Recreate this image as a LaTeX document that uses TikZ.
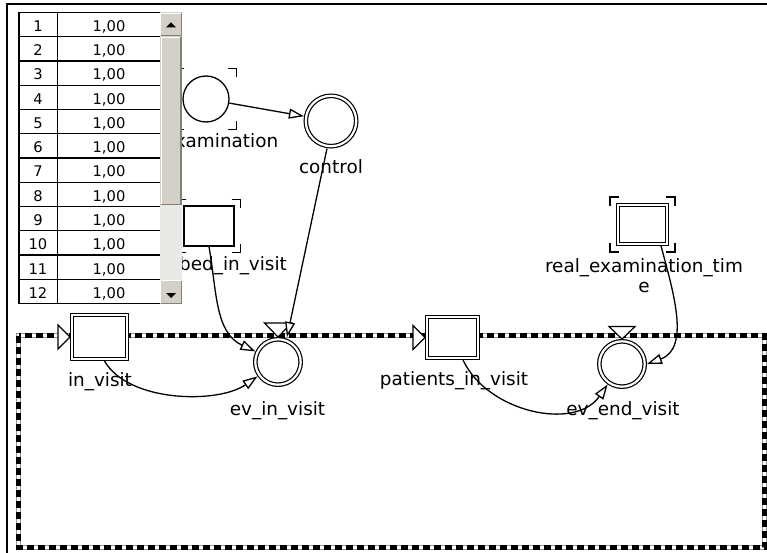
\documentclass[tikz,border=0pt]{standalone}
\usepackage{fontspec}
\setmainfont{DejaVu Sans}
\usepackage{tikz}
\usetikzlibrary{arrows.meta, calc}
\definecolor{btnGray}{RGB}{212,208,200}
\definecolor{trackGray}{RGB}{232,232,228}
\definecolor{edgeGray}{RGB}{128,128,128}
\definecolor{frameGray}{RGB}{150,150,150}

\begin{document}
\begin{tikzpicture}[x=1pt, y=1pt,
      place/.style={circle, draw, fill=white, line width=1.3pt, minimum size=#1, inner sep=0pt},
      dplace/.style={circle, draw, fill=white, line width=1.2pt, double, double distance=2.2pt, minimum size=#1, inner sep=0pt, outer sep=2.3pt},
      trans/.style={rectangle, draw, fill=white, line width=1.3pt, inner sep=0pt},
      dtrans/.style={rectangle, draw, fill=white, line width=1.2pt, double, double distance=1.6pt, inner sep=0pt, outer sep=2pt},
      tri/.style={draw, fill=white, line width=1.2pt},
      bracket/.style={line width=1.5pt},
      link/.style={line width=1.3pt, -{Triangle[length=15pt, width=10pt, fill=white]}},
      lbl/.style={font=\fontsize{18.4}{19.6}\selectfont, inner sep=0pt, anchor=base},
      cell/.style={font=\fontsize{14.7}{16}\selectfont, inner sep=0pt, anchor=base}]

  \useasboundingbox (0,0) rectangle (767,-553);

  % window frame
  \draw[line width=2pt] (7,-553) -- (7,-4) -- (767,-4);

  % subnet frame
  \draw[line width=5pt, frameGray] (18.5,-335.5) rectangle (764.5,-547.5);
  \draw[line width=2.5pt, white] (18.5,-335.5) rectangle (764.5,-547.5);
  \draw[line width=5pt, dash pattern=on 7pt off 4pt] (18.5,-335.5) rectangle (764.5,-547.5);

  % places and transitions
  \node[place=46pt] (exam) at (206,-99) {};
  \node[dplace=50.4pt] (control) at (331,-121) {};
  \node[trans, minimum width=50pt, minimum height=40pt] (bed) at (209,-226) {};
  \node[dtrans, minimum width=49pt, minimum height=39pt] (realtime) at (642.5,-224.5) {};
  \node[dtrans, minimum width=55pt, minimum height=44pt] (invisit) at (99.5,-337) {};
  \node[dplace=45.4pt] (evin) at (278,-362) {};
  \node[dtrans, minimum width=51pt, minimum height=41pt] (patients) at (452.5,-337.5) {};
  \node[dplace=45.4pt] (evend) at (622,-364) {};

  % corner marks
  \foreach \n/\o in {exam/7, bed/6, realtime/6} {
    \coordinate (tl) at ($(\n.north -| \n.west)+(-\o,\o)$);
    \coordinate (br) at ($(\n.south -| \n.east)+(\o,-\o)$);
    \coordinate (tr) at (tl -| br);
    \coordinate (bl) at (br -| tl);
    \draw[bracket] ($(tl)+(9,0)$) -- (tl) -- ($(tl)+(0,-9)$);
    \draw[bracket] ($(tr)+(-9,0)$) -- (tr) -- ($(tr)+(0,-9)$);
    \draw[bracket] ($(bl)+(9,0)$) -- (bl) -- ($(bl)+(0,9)$);
    \draw[bracket] ($(br)+(-9,0)$) -- (br) -- ($(br)+(0,9)$);
  }

  % input markers
  \draw[tri] (invisit.west) -- ++(-12,12) -- ++(0,-24) -- cycle;
  \draw[tri] (patients.west) -- ++(-12,12) -- ++(0,-24) -- cycle;
  \draw[tri] (evin.north) -- ++(-13.5,14) -- ++(27,0) -- cycle;
  \draw[tri] (evend.north) -- ++(-13,12.5) -- ++(26,0) -- cycle;

  % arcs
  \draw[link] (exam) -- (control);
  \draw[link] ([xshift=-4pt]control.south) -- ([xshift=9pt]evin.north);
  \draw[link] (bed.south) to[out=-80, in=155] (evin);
  \draw[link] ([xshift=5pt]invisit.south) to[out=-60, in=215, looseness=0.8] (evin);
  \draw[link] (patients) to[out=-65, in=235] (evend);
  \draw[link] ([xshift=-8pt]realtime.south east) to[out=-75, in=20] (evend.east);

  % labels
  \node[lbl] (examlbl) at (221,-148) {examination};
  \node[lbl] (controllbl) at (331,-174) {control};
  \node[lbl] (bedlbl) at (233,-270) {bed\_in\_visit};
  \node[lbl, align=center] (realtimelbl) at (644,-292.3) {real\_examination\_tim\\e};
  \node[lbl] (invisitlbl) at (100,-386) {in\_visit};
  \node[lbl] (evinlbl) at (277.5,-415) {ev\_in\_visit};
  \node[lbl] (patientslbl) at (454,-385.7) {patients\_in\_visit};
  \node[lbl] (evendlbl) at (623,-415) {ev\_end\_visit};

  % value table
  \fill[white] (19,-12.5) rectangle (160,-303.5);
  \foreach \i in {1,...,12} {
    \node[cell] (num\i) at (38, {-7.25-24.25*\i}) {\i};
    \node[cell] (val\i) at (109, {-7.25-24.25*\i}) {1,00};
  }
  \foreach \i in {0,...,12}
    \draw[line width=1.4pt] (19, {-12.5-24.25*\i}) -- (160, {-12.5-24.25*\i});
  \draw[line width=1.3pt] (19,-12.5) -- (19,-303.5);
  \draw[line width=1pt] (57,-12.5) -- (57,-303.5);

  % scrollbar
  \fill[btnGray] (160,-12.5) rectangle (182,-35.5);
  \draw[white] (160.5,-35) -- (160.5,-13) -- (181.5,-13);
  \draw[edgeGray] (160.5,-35) -- (181.5,-35) -- (181.5,-13);
  \fill (166,-27.5) -- (176,-27.5) -- (171,-22.5) -- cycle;
  \fill[btnGray] (160,-36.5) rectangle (182,-205);
  \draw[white] (161,-204.5) -- (161,-37) -- (181.5,-37);
  \draw[edgeGray, line width=1.5pt] (161,-204.5) -- (181.2,-204.5) -- (181.2,-37);
  \fill[trackGray] (160,-205) rectangle (182,-280);
  \fill[btnGray] (160,-280) rectangle (182,-303.5);
  \draw[white] (160.5,-303) -- (160.5,-280.5) -- (181.5,-280.5);
  \draw[edgeGray] (160.5,-303) -- (181.5,-303) -- (181.5,-280.5);
  \fill (166,-293) -- (176,-293) -- (171,-298) -- cycle;
\end{tikzpicture}
\end{document}
